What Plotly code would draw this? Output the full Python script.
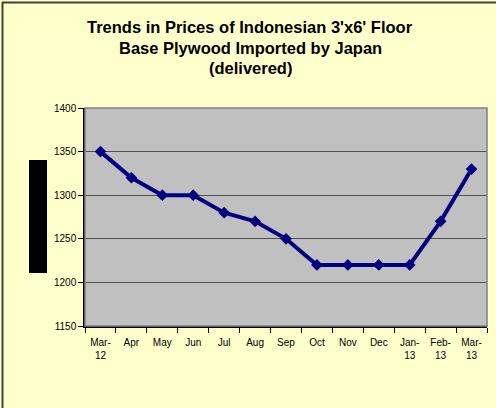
import plotly.graph_objects as go

months = ["Mar-12", "Apr", "May", "Jun", "Jul", "Aug", "Sep", "Oct", "Nov", "Dec", "Jan-13", "Feb-13", "Mar-13"]
tick_labels = ["Mar-<br>12", "Apr", "May", "Jun", "Jul", "Aug", "Sep", "Oct", "Nov", "Dec", "Jan-<br>13", "Feb-<br>13", "Mar-<br>13"]
prices = [1350, 1320, 1300, 1300, 1280, 1270, 1250, 1220, 1220, 1220, 1220, 1270, 1330]
title_lines = ["Trends in Prices of Indonesian 3'x6' Floor", "Base Plywood Imported by Japan", "(delivered)"]

L, R, T, B = 85, 9, 108, 82
W, H = 496, 408
ph = H - T - B
pw = W - L - R

def py(p):
    return (H - B - p) / ph

def px(p):
    return (p - L) / pw

fig = go.Figure()
fig.add_trace(go.Scatter(
    x=months, y=prices, mode="lines+markers",
    line=dict(color="#000080", width=4),
    marker=dict(symbol="diamond", size=9, color="#000080"),
    showlegend=False, hoverinfo="skip"))

annotations = []
for i, (t, yp) in enumerate(zip(title_lines, [27, 48, 68])):
    annotations.append(dict(text="<b>" + t + "</b>", x=px(250), y=py(yp), xref="paper", yref="paper",
                            xanchor="center", yanchor="middle", showarrow=False,
                            font=dict(family="Arial, Liberation Sans", size=16.5, color="black")))

shapes = [
    dict(type="rect", xref="paper", yref="paper", x0=px(29), x1=px(47), y0=py(273), y1=py(160),
         fillcolor="black", line=dict(width=0), layer="above"),
    dict(type="line", xref="paper", yref="paper", x0=px(2.5), x1=px(2.5), y0=py(2), y1=py(410),
         line=dict(color="#404040", width=2)),
    dict(type="line", xref="paper", yref="paper", x0=px(2), x1=px(498), y0=py(2.5), y1=py(2.5),
         line=dict(color="#404040", width=2)),
]

fig.update_layout(
    width=W, height=H,
    margin=dict(l=L, r=R, t=T, b=B),
    paper_bgcolor="#FFFFCC",
    plot_bgcolor="#C0C0C0",
    annotations=annotations,
    shapes=shapes,
    font=dict(family="Arial, Liberation Sans", size=10, color="black"),
    xaxis=dict(type="category", categoryorder="array", categoryarray=months,
               tickmode="array", tickvals=months, ticktext=tick_labels,
               range=[-0.5, 12.5], tickson="boundaries", ticks="outside", ticklen=5,
               tickcolor="black", showline=True, linecolor="black", linewidth=1.5,
               showgrid=False, mirror=False, tickangle=0, ticklabelstandoff=6,
               tickfont=dict(size=10)),
    yaxis=dict(range=[1150, 1400], dtick=50, ticks="outside", ticklen=5, tickcolor="black",
               showline=True, linecolor="black", linewidth=1.5,
               gridcolor="#505050", gridwidth=1, zeroline=False,
               tickfont=dict(size=10)),
)
fig.add_shape(type="rect", xref="paper", yref="paper", x0=0, x1=1, y0=0, y1=1,
              line=dict(color="#808080", width=1.5), layer="above")

fig.write_html("out.html", config={"displayModeBar": False},
               post_script="document.body.style.margin='0';document.body.style.padding='0';")
